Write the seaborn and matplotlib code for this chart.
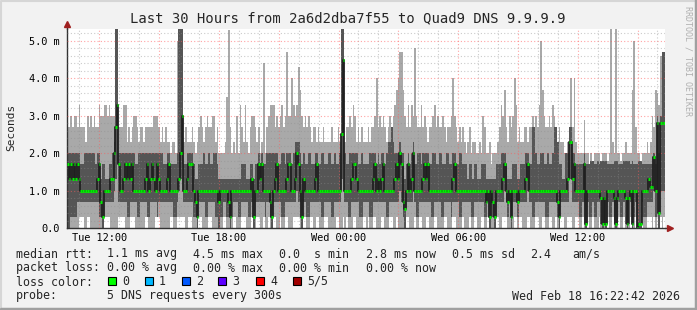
import numpy as np
import matplotlib
matplotlib.use("Agg")
import matplotlib.pyplot as plt
import seaborn as sns
from matplotlib.patches import Rectangle
from matplotlib.lines import Line2D

# ---------------- data (values in tenths of a millisecond, one per 5-minute step) -------------
# time axis: hours since Tue 00:00; first step starts Tue 10:22:42
start_hour = 10 + 22 / 60 + 42 / 3600
step_minutes = 5

median_t = [
    17,13,17,13,17,13,17,13,10,10,10,10,10,10,10,10,10,10,13,17,7,3,10,10,10,10,13,13,20,27,33,17,10,10,13,17,13,17,13,17,10,10,10,10,10,10,10,13,17,10,13,17,13,10,17,13,10,10,10,10,
    13,17,10,10,10,10,10,13,20,30,10,10,13,17,17,17,10,7,3,10,10,10,10,10,10,10,10,10,10,10,10,7,10,10,10,10,10,7,3,10,10,10,10,10,10,10,10,10,10,10,10,13,3,10,10,17,13,17,10,10,
    10,10,7,3,10,13,17,10,10,10,10,10,13,17,17,10,10,13,20,17,10,3,13,10,10,10,10,10,10,13,17,10,10,10,10,10,10,10,10,10,10,10,10,10,10,25,45,10,10,10,10,13,17,17,13,10,10,10,10,10,
    10,10,10,10,13,17,10,13,10,13,17,10,10,10,10,10,10,13,17,13,20,17,7,5,10,17,10,13,20,10,10,10,10,10,13,17,13,17,10,10,10,10,10,10,10,10,10,10,10,10,10,10,13,17,10,10,10,10,10,10,
    10,10,10,10,10,10,10,10,10,10,10,10,7,10,3,10,7,3,10,10,10,10,13,17,10,7,10,3,10,10,10,7,10,10,10,10,13,17,10,10,10,10,10,10,10,10,10,10,10,10,10,10,10,10,10,7,3,10,10,10,
    10,13,23,23,13,17,10,10,10,10,10,17,1,10,10,10,10,10,10,10,10,8,1,8,1,10,10,10,10,8,1,8,10,10,10,10,8,1,8,10,1,10,10,0,1,1,10,10,10,10,13,11,11,19,10,28,4,28,28,28,
]
ping_min_t = [
    0,0,0,0,0,0,0,3,3,3,0,0,3,3,0,0,0,0,0,0,0,0,3,3,3,3,0,0,0,0,0,3,3,3,3,0,0,0,3,3,3,0,0,0,0,0,0,3,3,0,0,0,0,3,3,3,0,0,0,0,
    0,0,3,3,0,0,3,3,3,3,3,0,0,3,3,0,0,0,0,3,3,0,0,0,0,3,3,0,0,0,0,0,0,0,3,3,0,0,0,0,3,3,0,0,0,3,3,3,0,0,0,3,0,0,3,3,0,0,3,0,
    0,3,0,0,3,3,0,0,3,0,0,3,3,0,0,0,3,3,3,3,0,0,3,3,0,0,3,3,0,0,3,3,0,0,0,3,3,0,0,0,0,0,3,3,0,0,3,0,3,0,0,0,3,3,0,0,0,0,3,3,
    0,3,0,0,3,3,0,0,0,3,3,0,0,0,3,3,0,0,3,0,0,0,0,0,3,3,0,0,0,3,0,0,3,3,0,0,3,3,0,0,0,3,3,0,0,0,0,3,3,0,0,0,3,3,0,0,0,0,3,0,
    0,0,3,0,0,3,3,0,0,3,3,0,0,3,0,0,0,0,3,3,0,0,3,3,3,0,0,0,0,3,3,0,3,3,0,0,0,3,3,0,0,0,3,3,0,0,3,3,0,0,3,3,0,0,3,0,0,3,3,0,
    0,3,3,3,0,0,3,3,0,0,3,0,0,3,0,0,3,0,0,0,3,0,0,0,0,3,0,0,3,0,0,0,3,0,0,3,0,0,0,3,0,0,3,0,0,0,3,0,0,3,3,3,0,3,0,3,0,3,0,3,
]
ping_low_t = [
    0,0,3,3,3,3,7,7,7,7,7,7,7,7,7,7,7,7,7,3,3,0,7,7,7,7,7,7,10,13,17,7,7,7,7,7,3,3,7,7,7,7,3,3,7,7,7,7,3,3,7,7,7,7,3,7,7,7,7,7,
    7,7,7,7,3,3,7,10,13,17,7,7,7,7,7,7,3,3,0,7,7,7,7,3,3,7,7,7,7,3,3,0,3,3,7,7,3,3,0,3,7,7,7,3,3,7,7,7,7,3,3,7,0,7,7,7,7,7,7,3,
    7,7,3,0,7,7,7,7,7,3,3,7,7,7,7,7,7,7,10,7,7,0,7,7,3,3,7,7,7,7,7,7,7,3,3,7,7,7,7,3,3,7,7,7,7,13,17,7,7,3,3,7,7,7,7,7,3,3,7,7,
    7,7,3,3,7,7,7,7,7,7,7,7,3,3,7,7,7,7,7,7,10,7,3,0,7,7,7,7,10,7,3,3,7,7,7,7,7,7,7,3,3,7,7,7,7,3,3,7,7,7,7,3,7,7,7,7,3,3,7,7,
    7,7,7,3,3,7,7,7,7,7,7,3,3,7,0,7,3,0,7,7,7,7,7,10,7,3,7,0,7,7,7,3,7,7,7,7,7,10,7,7,3,3,7,7,7,7,7,7,3,3,7,7,7,7,7,3,0,7,7,7,
    7,7,13,13,7,7,7,7,3,3,7,7,0,7,3,3,7,3,3,7,7,1,0,1,0,7,3,3,7,1,0,1,7,3,3,7,1,0,1,7,0,3,7,0,0,0,7,3,3,7,7,7,7,10,3,10,0,10,10,10,
]
ping_high_t = [
    20,20,20,20,20,20,20,20,17,17,20,20,20,20,20,20,20,17,20,20,13,17,17,13,13,17,17,20,23,60,60,20,20,20,20,20,20,20,20,20,20,17,17,20,20,20,20,20,20,20,20,20,20,20,20,20,20,20,17,17,
    20,20,17,17,17,17,20,60,60,60,17,17,20,20,20,20,17,13,13,17,17,17,20,17,17,20,17,17,20,20,17,13,13,13,13,13,13,13,13,13,13,13,13,13,13,17,17,17,13,13,17,17,13,17,17,20,17,20,17,17,
    20,20,20,20,20,20,20,17,17,20,20,17,20,20,20,17,20,23,23,23,20,17,20,17,17,20,20,17,17,20,20,17,17,20,20,17,17,20,20,17,17,20,17,17,20,60,60,20,17,17,20,20,20,20,20,17,17,20,17,17,
    17,17,20,20,20,20,17,20,17,20,20,17,20,23,23,27,23,20,20,20,23,20,20,13,17,20,17,20,23,17,17,20,20,17,20,20,20,20,17,17,20,20,17,17,20,20,17,17,20,20,17,17,20,20,17,17,20,20,17,17,
    17,13,17,17,13,17,17,13,13,17,17,17,13,13,13,13,13,13,17,17,17,20,20,20,17,13,13,13,17,17,17,13,13,17,17,17,20,20,17,17,27,27,20,17,17,20,20,17,17,20,17,17,20,27,27,23,17,17,13,13,
    20,20,27,27,20,20,17,17,17,17,17,20,17,17,17,18,18,17,17,18,17,18,18,18,18,17,17,17,17,18,18,18,17,17,17,18,18,18,18,17,18,17,17,17,18,18,17,17,17,17,17,17,17,20,17,30,20,30,47,47,
]
ping_max_t = [
    27,27,30,27,30,30,27,33,27,27,27,23,30,27,30,27,30,27,27,33,30,30,33,33,30,33,30,30,30,60,60,27,27,27,33,33,23,27,23,27,30,30,27,23,27,27,23,27,27,27,27,27,30,30,30,27,23,27,23,27,
    23,23,20,23,23,20,50,60,60,60,23,27,23,23,23,27,23,20,23,27,30,27,23,27,30,27,27,30,30,23,27,20,20,20,20,23,35,53,27,20,23,20,30,20,33,27,23,33,23,20,27,30,30,27,23,27,20,23,44,20,
    27,30,33,33,33,27,30,27,30,33,27,30,47,30,30,40,33,30,33,43,37,30,27,30,27,30,27,23,27,27,23,27,23,23,27,23,23,23,23,27,23,23,23,27,23,60,60,23,27,27,30,27,33,30,23,27,23,27,23,23,
    23,27,23,27,27,30,40,27,30,27,30,27,23,27,30,27,30,33,37,40,47,47,37,30,27,33,27,33,30,48,30,27,27,33,27,30,27,23,27,27,30,33,27,30,27,27,30,27,23,27,27,30,40,30,27,23,27,23,27,23,
    20,23,27,20,23,23,20,20,23,20,30,27,20,20,23,17,20,20,20,23,27,33,30,37,27,23,30,27,30,40,33,23,27,23,23,27,27,23,27,27,30,27,30,27,33,50,37,30,27,27,30,27,33,30,27,23,27,23,23,20,
    20,23,27,40,27,40,23,20,20,20,20,29,20,20,17,20,18,20,20,20,20,18,20,20,20,18,20,60,23,20,60,20,20,18,20,20,23,20,20,20,37,50,27,20,20,18,20,20,20,23,20,23,30,27,37,36,33,46,47,47,
]

x_tick_hours = [12, 18, 24, 30, 36]
x_tick_labels = ["Tue 12:00", "Tue 18:00", "Wed 00:00", "Wed 06:00", "Wed 12:00"]
y_tick_values = [0, 1, 2, 3, 4, 5]
y_tick_labels = ["0.0", "1.0 m", "2.0 m", "3.0 m", "4.0 m", "5.0 m"]

loss_names = ["0", "1", "2", "3", "4", "5/5"]
loss_colors = ["#00ff00", "#00b8ff", "#0059ff", "#5e00ff", "#ff0000", "#a10000"]

stats_rtt = ["1.1 ms avg", "4.5 ms max", "0.0  s min", "2.8 ms now", "0.5 ms sd", "2.4", "am/s"]
stats_loss = ["0.00 % avg", "0.00 % max", "0.00 % min", "0.00 % now"]

# ---------------- figure ----------------
sns.set_style("white")
MONO = ["DejaVu Sans Mono"]
plt.rcParams["font.family"] = MONO

W, H = 697, 310
fig = plt.figure(figsize=(W / 100, H / 100), dpi=100)
fig.patch.set_facecolor("#f2f2f2")

L, R, T, B = 67, 665, 29, 228
ax = fig.add_axes([L / W, 1 - B / H, (R - L) / W, (B - T) / H])
ax.set_facecolor("white")

step_h = step_minutes / 60
n = len(median_t)
t = start_hour + np.arange(n) * step_h
med = np.array(median_t) / 10
pmin = np.array(ping_min_t) / 10
plow = np.array(ping_low_t) / 10
phigh = np.array(ping_high_t) / 10
pmax = np.array(ping_max_t) / 10

# smoke
ax.bar(t, pmax - pmin, bottom=pmin, width=step_h, align="edge",
       color="#a9a9a9", linewidth=0, zorder=1)
ax.bar(t, phigh - plow, bottom=plow, width=step_h, align="edge",
       color="#555555", linewidth=0, zorder=2)

# grid (drawn over the smoke, as rrdtool does)
for h in range(11, 41):
    col = (1.0, 0.35, 0.35, 0.55) if h % 3 == 0 else (0.55, 0.55, 0.55, 0.45)
    ax.axvline(h, color=col, lw=0.8, ls=(0, (1, 2)), zorder=3)
for k in range(1, 27):
    v = k * 0.2
    col = (1.0, 0.35, 0.35, 0.55) if k % 5 == 0 else (0.55, 0.55, 0.55, 0.45)
    ax.axhline(v, color=col, lw=0.8, ls=(0, (1, 2)), zorder=3)

# median line: dark steps + green loss-coloured level segments
xs = np.append(t, t[-1] + step_h)
ys = np.append(med, med[-1])
sns.lineplot(x=xs, y=ys, drawstyle="steps-post", color="#202020", lw=1.3,
             estimator=None, sort=False, ax=ax, legend=False, zorder=4)
ax.hlines(med, t, t + step_h, color="#00ee00", lw=2.2, zorder=5)

ax.set_xlim(start_hour, start_hour + 30)
ax.set_ylim(0, 5.32)
ax.set_xticks(x_tick_hours)
ax.set_xticklabels(x_tick_labels)
ax.set_yticks(y_tick_values)
ax.set_yticklabels(y_tick_labels)
ax.tick_params(axis="both", labelsize=7.4, length=2, width=0.8, color="#888888",
               labelcolor="#000000")
ax.tick_params(axis="x", pad=1.5)
ax.tick_params(axis="y", pad=3.5)
ax.set_xlabel("")
ax.set_ylabel("")
for s in ["top", "right"]:
    ax.spines[s].set_visible(False)
for s in ["left", "bottom"]:
    ax.spines[s].set_color("#333333")
    ax.spines[s].set_linewidth(1.0)

# axis extensions with arrow heads
fig.add_artist(Line2D([L / W, L / W], [1 - T / H, 1 - 24 / H], color="#333333", lw=1.0))
fig.add_artist(Line2D([R / W, 670 / W], [1 - B / H, 1 - B / H], color="#333333", lw=1.0))
fig.add_artist(Line2D([L / W], [1 - 24 / H], marker="^", ms=5, color="#a02020", lw=0))
fig.add_artist(Line2D([670 / W], [1 - B / H], marker=">", ms=5, color="#a02020", lw=0))

# frame of the image
fig.add_artist(Line2D([0.5 / W, 0.5 / W, 1 - 0.5 / W], [0, 1 - 0.5 / H, 1 - 0.5 / H],
                      color="#d6d6d6", lw=1.5))
fig.add_artist(Line2D([1 / W, 1 - 1 / W, 1 - 1 / W], [1 / H, 1 / H, 1], color="#a0a0a0", lw=2.5))


def ftext(x, y, s, **kw):
    kw.setdefault("fontsize", 8.4)
    kw.setdefault("va", "center")
    kw.setdefault("family", MONO)
    return fig.text(x / W, 1 - y / H, s, **kw)


ftext(348, 18, "Last 30 Hours from 2a6d2dba7f55 to Quad9 DNS 9.9.9.9", fontsize=10, ha="center")
ftext(688, 6, "RRDTOOL / TOBI OETIKER", fontsize=6, rotation=270, va="top", ha="center",
      color="#b0b0b0")
ftext(11, 127, "Seconds", fontsize=8, rotation=90, ha="center")

col_x = [107, 193, 279, 366, 452, 530, 572]
ftext(16, 254, "median rtt:")
for x, s in zip(col_x, stats_rtt):
    ftext(x, 254, s)
ftext(16, 268, "packet loss:")
for x, s in zip(col_x, stats_loss):
    ftext(x, 268, s)
ftext(16, 282, "loss color:")
sq_x = [108, 145, 182, 218, 256, 293]
for x, c, name in zip(sq_x, loss_colors, loss_names):
    fig.add_artist(Rectangle((x / W, 1 - 285 / H), 8 / W, 8 / H, facecolor=c,
                             edgecolor="black", lw=0.8, transform=fig.transFigure))
    ftext(x + 14, 281.5, name)
ftext(16, 296, "probe:")
ftext(107, 296, "5 DNS requests every 300s")
ftext(680, 296, "Wed Feb 18 16:22:42 2026", ha="right")

fig.savefig("out.png", dpi=100, facecolor=fig.get_facecolor())
